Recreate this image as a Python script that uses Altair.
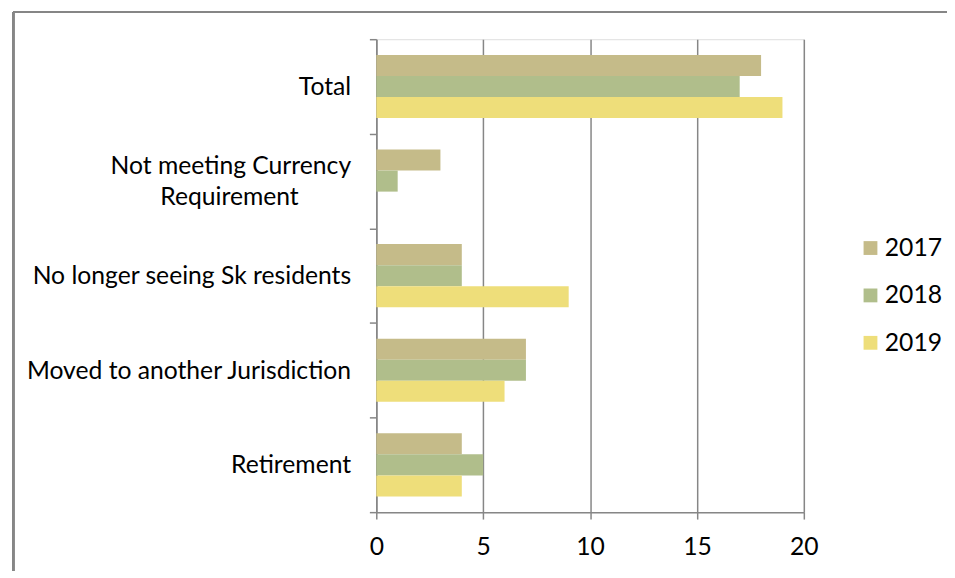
import altair as alt
import pandas as pd

categories = ["Total", "Not meeting Currency Requirement", "No longer seeing Sk residents",
              "Moved to another Jurisdiction", "Retirement"]
years = ["2017", "2018", "2019"]
v2017 = [18, 3, 4, 7, 4]
v2018 = [17, 1, 4, 7, 5]
v2019 = [19, 0, 9, 6, 4]
colors = ["#C5BB89", "#B0BE8B", "#EEDE7A"]

rows = []
for i, c in enumerate(categories):
    for y, vals in zip(years, [v2017, v2018, v2019]):
        rows.append({"category": c, "year": y, "value": vals[i]})
df = pd.DataFrame(rows)

FONT = "Lato"
FS = 25
GRID = "#868686"
LONG = "Not meeting Currency Requirement"

label_expr = ("datum.value == '" + LONG + "' ? "
              "['Not meeting Currency', 'Requirement\u2003\u2003\u2002\u2009\u200b'] : datum.label")

bars = alt.Chart(df).mark_bar().encode(
    y=alt.Y("category:N", sort=categories, title=None,
            scale=alt.Scale(paddingInner=0, paddingOuter=0),
            axis=alt.Axis(domain=True, domainColor=GRID, domainWidth=1.5,
                          ticks=True, tickBand="extent", tickColor=GRID, tickWidth=1.5, tickSize=7,
                          labelPadding=19, labelFont=FONT, labelFontSize=FS, labelColor="#000000",
                          labelLimit=400, labelLineHeight=31, grid=False, labelExpr=label_expr,
                          labelOffset={"condition": {"test": "datum.value == '" + LONG + "'",
                                                     "value": -15.5}, "value": 0})),
    yOffset=alt.YOffset("year:N", sort=years,
                        scale=alt.Scale(paddingInner=0, paddingOuter=0.745)),
    x=alt.X("value:Q", title=None, scale=alt.Scale(domain=[0, 20], nice=False),
            axis=alt.Axis(values=[0, 5, 10, 15, 20], domain=True, domainColor=GRID, domainWidth=1.5,
                          ticks=True, tickColor=GRID, tickWidth=1.5, tickSize=7,
                          grid=True, gridColor=GRID, gridWidth=1.5,
                          labelPadding=16, labelFont=FONT, labelFontSize=FS, labelColor="#000000",
                          labelFlush=False)),
    color=alt.Color("year:N", sort=years, title=None,
                    scale=alt.Scale(domain=years, range=colors),
                    legend=alt.Legend(orient="none", legendX=488, legendY=199,
                                      symbolType="square", symbolSize=196, symbolStrokeWidth=0,
                                      labelFont=FONT, labelFontSize=FS, labelColor="#000000",
                                      labelOffset=2, rowPadding=22, padding=0)),
)

border_top = alt.Chart(df).mark_rule(color=GRID, strokeWidth=1.5).encode(
    x=alt.value(-367.5), x2=alt.value(600), y=alt.value(-27.5))
border_left = alt.Chart(df).mark_rule(color=GRID, strokeWidth=1.5).encode(
    x=alt.value(-367.5), y=alt.value(-27.5), y2=alt.value(560))

chart = alt.layer(border_top, border_left, bars).properties(
    width=433, height=479,
    padding={"left": 373, "top": 28, "right": 145, "bottom": 56},
    autosize=alt.AutoSizeParams(type="none"),
).configure_view(stroke=None).configure(background="white")

chart.save("out.html", embed_options={"renderer": "svg", "actions": False})
